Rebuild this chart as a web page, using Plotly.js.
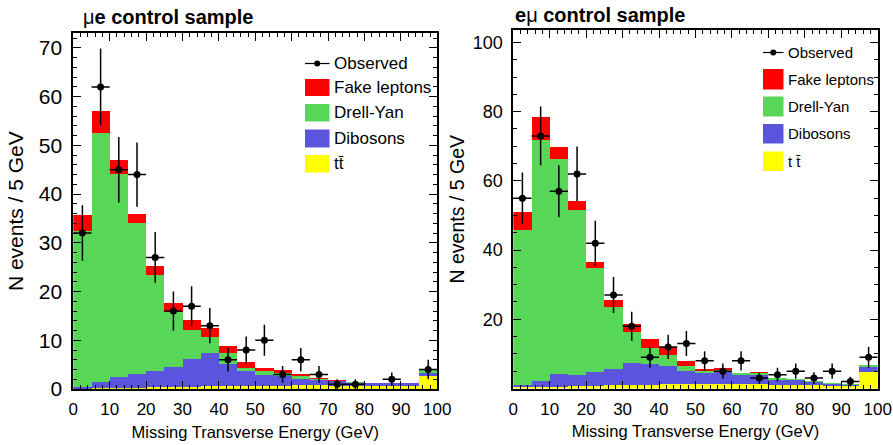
<!DOCTYPE html>
<html>
<head>
<meta charset="utf-8">
<script src="https://cdn.plot.ly/plotly-3.0.1.min.js"></script>
<style>
  html, body { margin: 0; padding: 0; background: #ffffff; }
  #chart { width: 893px; height: 445px; }
</style>
</head>
<body>
<div id="chart"></div>
<script>
// Missing transverse energy, 5 GeV bins from 0 to 100 GeV
const binCenters = [2.5, 7.5, 12.5, 17.5, 22.5, 27.5, 32.5, 37.5, 42.5, 47.5,
                    52.5, 57.5, 62.5, 67.5, 72.5, 77.5, 82.5, 87.5, 92.5, 97.5];

// mu-e control sample: expected contributions per bin
const muE_ttbar    = [0.1, 0.2, 0.3, 0.3, 0.4, 0.5, 0.5, 0.6, 0.6, 0.6, 0.7, 0.7, 0.8, 0.8, 0.7, 0.7, 0.7, 0.6, 0.6, 2.7];
const muE_diboson  = [0.4, 1.3, 2.2, 2.8, 3.2, 4.1, 5.7, 6.7, 4.5, 3.0, 2.2, 2.0, 1.3, 1.0, 0.9, 0.6, 0.5, 0.6, 0.6, 0.6];
const muE_drellYan = [32.0, 51.0, 41.6, 30.9, 19.8, 11.3, 5.9, 3.3, 2.2, 0.8, 0.7, 0.6, 0.6, 0.2, 0.1, 0.1, 0.05, 0.05, 0.05, 0.7];
const muE_fakes    = [3.2, 4.6, 2.9, 1.9, 1.9, 1.8, 2.1, 2.0, 1.6, 1.2, 0.8, 0.7, 0.4, 0.3, 0.1, 0.1, 0.05, 0.05, 0.05, 0.2];
const muE_observed = [32, 62, 45, 44, 27, 16, 17, 13, 6, 8, 10, 3, 6, 3, 1, 1, null, 2, null, 4];
const muE_obsError = [5.7, 7.9, 6.7, 6.6, 5.2, 4.0, 4.1, 3.6, 2.4, 2.8, 3.2, 1.7, 2.4, 1.7, 1.0, 1.0, null, 1.4, null, 2.0];

// e-mu control sample: expected contributions per bin
const eMu_ttbar    = [0.3, 0.4, 0.5, 0.6, 0.8, 0.9, 1.0, 1.1, 1.2, 1.2, 1.3, 1.4, 1.3, 1.3, 1.1, 1.0, 0.9, 0.8, 0.7, 4.9];
const eMu_diboson  = [0.7, 1.9, 3.6, 3.2, 4.1, 4.7, 6.3, 5.9, 5.3, 3.9, 3.3, 3.5, 2.6, 2.5, 1.5, 1.6, 1.1, 0.6, 0.4, 1.4];
const eMu_drellYan = [44.8, 69.5, 62.1, 47.8, 29.8, 17.9, 9.1, 4.8, 3.2, 1.5, 0.5, 0.4, 0.5, 0.8, 0.3, 0.1, 0.2, 0.1, 0.1, 0.5];
const eMu_fakes    = [5.3, 6.6, 3.7, 2.7, 2.0, 2.1, 2.2, 2.5, 2.2, 1.3, 0.4, 0.7, 0.2, 0.05, 0.1, 0.1, 0.1, 0.1, 0.1, 0.1];
const eMu_observed = [55, 73, 57, 62, 42, 27, 18, 9, 12, 13, 8, 5, 8, 3, 4, 5, 3, 5, 2, 9];
const eMu_obsError = [7.4, 8.5, 7.5, 7.9, 6.5, 5.2, 4.2, 3.0, 3.5, 3.6, 2.8, 2.2, 2.8, 1.7, 2.0, 2.2, 1.7, 2.2, 1.4, 3.0];

const xTickVals = [0, 10, 20, 30, 40, 50, 60, 70, 80, 90, 100];
const muE_yTickVals = [0, 10, 20, 30, 40, 50, 60, 70];
const eMu_yTickVals = [20, 40, 60, 80, 100];

const sampleNames = ['Fake leptons', 'Drell-Yan', 'Dibosons'];

const COL = {
  fakes: '#ff0000',
  dy: '#58d658',
  diboson: '#5a55dc',
  ttbar: '#ffff00'
};

const W = 893, H = 445;
const px = x => x / W;
const py = y => 1 - y / H;

function stackTraces(xa, ya, tt, db, dy, fk) {
  const common = { type: 'bar', x: binCenters, width: 5, xaxis: xa, yaxis: ya,
                   showlegend: false, hoverinfo: 'y+name' };
  return [
    Object.assign({}, common, { y: tt, name: 'tt̄', marker: { color: COL.ttbar, line: { width: 0 } } }),
    Object.assign({}, common, { y: db, name: sampleNames[2], marker: { color: COL.diboson, line: { width: 0 } } }),
    Object.assign({}, common, { y: dy, name: sampleNames[1], marker: { color: COL.dy, line: { width: 0 } } }),
    Object.assign({}, common, { y: fk, name: sampleNames[0], marker: { color: COL.fakes, line: { width: 0 } } })
  ];
}

function observedTrace(xa, ya, obs, err) {
  return {
    type: 'scatter', mode: 'markers', x: binCenters, y: obs, xaxis: xa, yaxis: ya,
    name: 'Observed', showlegend: false, cliponaxis: true,
    marker: { color: '#000000', size: 7 },
    error_y: { type: 'data', array: err, visible: true, color: '#000000', thickness: 1.5, width: 0 },
    error_x: { type: 'constant', value: 2.5, visible: true, color: '#000000', thickness: 1.5, width: 0 }
  };
}

const data = [].concat(
  stackTraces('x', 'y', muE_ttbar, muE_diboson, muE_drellYan, muE_fakes),
  [observedTrace('x', 'y', muE_observed, muE_obsError)],
  stackTraces('x2', 'y2', eMu_ttbar, eMu_diboson, eMu_drellYan, eMu_fakes),
  [observedTrace('x2', 'y2', eMu_observed, eMu_obsError)]
);

const FONT = 'Liberation Sans, Arial, Helvetica, sans-serif';

function xAxis(domain, anchor) {
  return {
    domain: domain, anchor: anchor, range: [0, 100],
    tickvals: xTickVals, ticks: 'inside', ticklen: 8, tickwidth: 1, tickcolor: '#000',
    minor: { dtick: 2, ticks: 'inside', ticklen: 4, tickwidth: 1, tickcolor: '#000' },
    mirror: 'allticks', showline: true, linewidth: 2, linecolor: '#000',
    showgrid: false, zeroline: false, fixedrange: true,
    tickfont: { family: FONT, size: 17, color: '#000' },
    ticklabelstandoff: 4,
    title: { text: 'Missing Transverse Energy (GeV)', font: { family: FONT, size: 16.5, color: '#000' }, standoff: 8 }
  };
}

function yAxis(domain, anchor, range, tickvals, minorStep, fontSize, titleSize, titleStandoff) {
  return {
    domain: domain, anchor: anchor, range: range,
    tickvals: tickvals, ticks: 'inside', ticklen: 8, tickwidth: 1, tickcolor: '#000',
    minor: { dtick: minorStep, ticks: 'inside', ticklen: 4, tickwidth: 1, tickcolor: '#000' },
    mirror: 'allticks', showline: true, linewidth: 2, linecolor: '#000',
    showgrid: false, zeroline: false, fixedrange: true,
    tickfont: { family: FONT, size: fontSize, color: '#000' },
    ticklabelstandoff: 5,
    title: { text: 'N events / 5 GeV', font: { family: FONT, size: titleSize, color: '#000' }, standoff: titleStandoff }
  };
}

// Hand-drawn legend boxes for each panel
function legendItems(x0, x1, yObs, rows, textX, fontSize, ttLabel) {
  const shapes = [], ann = [];
  const xmid = (x0 + x1) / 2;
  shapes.push({ type: 'line', xref: 'paper', yref: 'paper', x0: px(x0), x1: px(x1), y0: py(yObs), y1: py(yObs),
                line: { color: '#000', width: 1.2 } });
  shapes.push({ type: 'circle', xref: 'paper', yref: 'paper', x0: px(xmid - 3), x1: px(xmid + 3),
                y0: py(yObs + 3), y1: py(yObs - 3), fillcolor: '#000', line: { width: 0 } });
  ann.push({ xref: 'paper', yref: 'paper', x: px(textX), y: py(yObs), xanchor: 'left', yanchor: 'middle',
             text: 'Observed', showarrow: false, font: { family: FONT, size: fontSize, color: '#000' } });
  const labels = [sampleNames[0], sampleNames[1], sampleNames[2], ttLabel];
  const colors = [COL.fakes, COL.dy, COL.diboson, COL.ttbar];
  rows.forEach((r, i) => {
    shapes.push({ type: 'rect', xref: 'paper', yref: 'paper', x0: px(x0), x1: px(x1), y0: py(r[1]), y1: py(r[0]),
                  fillcolor: colors[i], line: { width: 0 } });
    ann.push({ xref: 'paper', yref: 'paper', x: px(textX), y: py((r[0] + r[1]) / 2), xanchor: 'left', yanchor: 'middle',
               text: labels[i], showarrow: false, font: { family: FONT, size: fontSize, color: '#000' } });
  });
  return { shapes, ann };
}

const legL = legendItems(305, 329.5, 63.5, [[79, 96], [104, 121.5], [129.5, 147.5], [155, 172.5]], 332, 17, 'tt̄');
const legR = legendItems(763, 783.5, 52.5, [[69, 89.5], [96.5, 116.5], [124, 143.5], [151.5, 171]], 786, 15, 't t̄');

const layout = {
  width: W, height: H,
  margin: { l: 0, r: 0, t: 0, b: 0 },
  paper_bgcolor: '#ffffff', plot_bgcolor: '#ffffff',
  barmode: 'stack', bargap: 0,
  showlegend: false,
  font: { family: FONT, color: '#000' },
  xaxis: xAxis([73.3 / W, 437.3 / W], 'y'),
  yaxis: yAxis([1 - 389 / H, 1 - 33.3 / H], 'x', [0, 73], muE_yTickVals, 2, 21, 21, 9),
  xaxis2: xAxis([513.3 / W, 877.7 / W], 'y2'),
  yaxis2: yAxis([1 - 388.5 / H, 1 - 30 / H], 'x2', [0, 103.6], eMu_yTickVals, 5, 18, 19.5, 3),
  shapes: legL.shapes.concat(legR.shapes),
  annotations: [
    { xref: 'paper', yref: 'paper', x: px(81), y: py(16.5), xanchor: 'left', yanchor: 'middle', showarrow: false,
      text: '<span style="font-weight:normal">μ</span>e control sample',
      font: { family: FONT, size: 20, color: '#000', weight: 'bold' } },
    { xref: 'paper', yref: 'paper', x: px(513), y: py(15), xanchor: 'left', yanchor: 'middle', showarrow: false,
      text: 'e<span style="font-weight:normal">μ</span> control sample',
      font: { family: FONT, size: 20, color: '#000', weight: 'bold' } }
  ].concat(legL.ann, legR.ann)
};

Plotly.newPlot('chart', data, layout, { displayModeBar: false, staticPlot: true });
</script>
</body>
</html>
